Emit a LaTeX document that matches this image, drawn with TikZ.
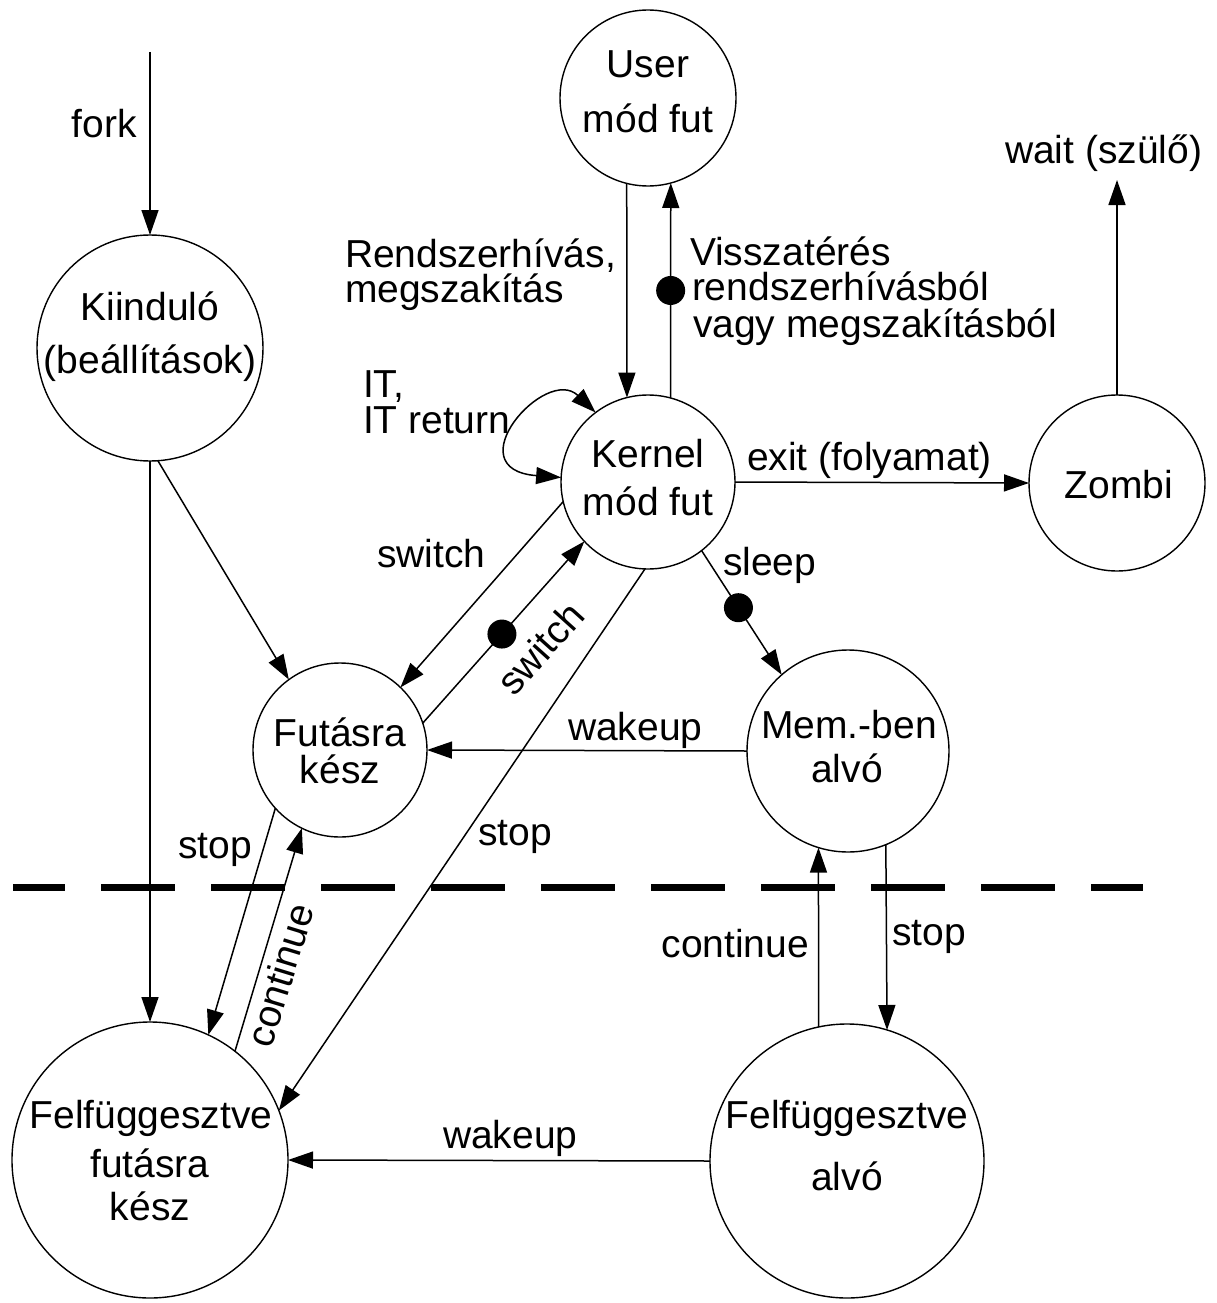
\documentclass[tikz,border=0pt]{standalone}
\usepackage{fontspec}
\setmainfont{Liberation Sans}
\usetikzlibrary{arrows.meta}
\begin{document}
\begin{tikzpicture}[x=1pt,y=-1pt,
  state/.style={circle,draw,line width=1.4pt,inner sep=0pt,outer sep=0pt},
  txt/.style={inner sep=0pt,outer sep=0pt,font=\fontsize{39}{39}\selectfont},
  arr/.style={line width=1.5pt,-{Triangle[length=25pt,width=17pt]}},
  darr/.style={line width=1.5pt,{Triangle[length=25pt,width=17pt]}-{Triangle[length=25pt,width=17pt]}},
  dotmark/.style={circle,fill=black,inner sep=0pt,minimum size=29pt},
  sep/.style={line width=7pt,dash pattern=on 74pt off 36pt,dash phase=22pt}
  ]
\useasboundingbox (0,0) rectangle (1217,1303);

% states
\node[state,minimum size=176pt] (user) at (648,98) {};
\node[state,minimum size=174pt] (kernel) at (648,482) {};
\node[state,minimum size=176pt] (zombi) at (1117,483) {};
\node[state,minimum size=226pt] (kiindulo) at (150,348) {};
\node[state,minimum size=174pt] (futasra) at (340,750) {};
\node[state,minimum size=202pt] (mem) at (848,751) {};
\node[state,minimum size=276pt] (felffut) at (150,1160) {};
\node[state,minimum size=274pt] (felfalvo) at (847,1161) {};

% state texts
\node[txt,anchor=base] (userA) at (648,78) {User};
\node[txt,anchor=base] (userB) at (648,132) {mód fut};
\node[txt,anchor=base] (kernelA) at (648,467) {Kernel};
\node[txt,anchor=base] (kernelB) at (648,515) {mód fut};
\node[txt,anchor=base] (zombiA) at (1119,498) {Zombi};
\node[txt,anchor=base] (kiA) at (150,320) {Kiinduló};
\node[txt,anchor=base] (kiB) at (150,373) {(beállítások)};
\node[txt,anchor=base] (fuA) at (340,746) {Futásra};
\node[txt,anchor=base] (fuB) at (340,783) {kész};
\node[txt,anchor=base] (memA) at (849,738) {Mem.-ben};
\node[txt,anchor=base] (memB) at (847,782) {alvó};
\node[txt,anchor=base] (ffA) at (151,1128) {Felfüggesztve};
\node[txt,anchor=base] (ffB) at (150,1177) {futásra};
\node[txt,anchor=base] (ffC) at (150,1220) {kész};
\node[txt,anchor=base] (faA) at (847,1128) {Felfüggesztve};
\node[txt,anchor=base] (faB) at (847,1190) {alvó};

% free ends
\coordinate (forkstart) at (150,52);
\coordinate (waitend) at (1117,180);

% connectors
\draw[arr] (forkstart) -- (kiindulo.90);
\draw[arr] (kiindulo.-90) -- (felffut.90);
\draw[arr] (kiindulo.-86) -- (futasra.126);
\draw[arr] (user.-104) -- (kernel.104);
\draw[arr] (kernel.75.4) -- node[dotmark,pos=0.5] (dot1) {} (user.-75.5);
\draw[darr] (kernel.127.5) .. controls +(-50,-48) and +(-107,-8) .. (kernel.177);
\draw[arr] (kernel.0) -- (zombi.180);
\draw[arr] (zombi.90) -- (waitend);
\draw[arr] (kernel.193.2) -- (futasra.46.4);
\draw[arr] (futasra.18.2) -- node[dotmark,pos=0.49] (dot2) {} (kernel.223.6);
\draw[arr] (kernel.-92) -- (felffut.21.4);
\draw[arr] (kernel.-52.2) -- node[dotmark,pos=0.46] (dot3) {} (mem.131.5);
\draw[arr] (mem.180) -- (futasra.0);
\draw[arr] (futasra.-138.2) -- (felffut.65.8);
\draw[arr] (felffut.52.3) -- (futasra.-116);
\draw[arr] (mem.-68.5) -- (felfalvo.73.9);
\draw[arr] (felfalvo.102.65) -- (mem.-107.9);
\draw[arr] (felfalvo.180) -- (felffut.0);

% separator
\coordinate (sepL) at (13,887);
\coordinate (sepR) at (1143,887);
\draw[sep] (sepL) -- (sepR);

% labels
\node[txt,anchor=base east] (lfork) at (137,138) {fork};
\node[txt,anchor=base west] (lrend1) at (345,267) {Rendszerhívás,};
\node[txt,anchor=base west] (lrend2) at (345,302) {megszakítás};
\node[txt,anchor=base west] (lvissza1) at (690,265) {Visszatérés};
\node[txt,anchor=base west] (lvissza2) at (692,300) {rendszerhívásból};
\node[txt,anchor=base west] (lvissza3) at (693,337) {vagy megszakításból};
\node[txt,anchor=base west] (lit1) at (363,397) {IT,};
\node[txt,anchor=base west] (lit2) at (363,433) {IT return};
\node[txt,anchor=base west] (lexit) at (747,470) {exit (folyamat)};
\node[txt,anchor=base west] (lwait) at (1005,163) {wait (szülő)};
\node[txt,anchor=base west] (lswitch1) at (377,567) {switch};
\node[txt,rotate=48] (lswitch2) at (540,648) {switch};
\node[txt,anchor=base west] (lsleep) at (723,575) {sleep};
\node[txt,anchor=base west] (lwake1) at (568,740) {wakeup};
\node[txt,anchor=base west] (lstop1) at (478,845) {stop};
\node[txt,anchor=base west] (lstop2) at (178,858) {stop};
\node[txt,rotate=73] (lcont1) at (280,975) {continue};
\node[txt,anchor=base west] (lstop3) at (892,945) {stop};
\node[txt,anchor=base east] (lcont2) at (809,957) {continue};
\node[txt,anchor=base west] (lwake2) at (443,1148) {wakeup};
\end{tikzpicture}
\end{document}
